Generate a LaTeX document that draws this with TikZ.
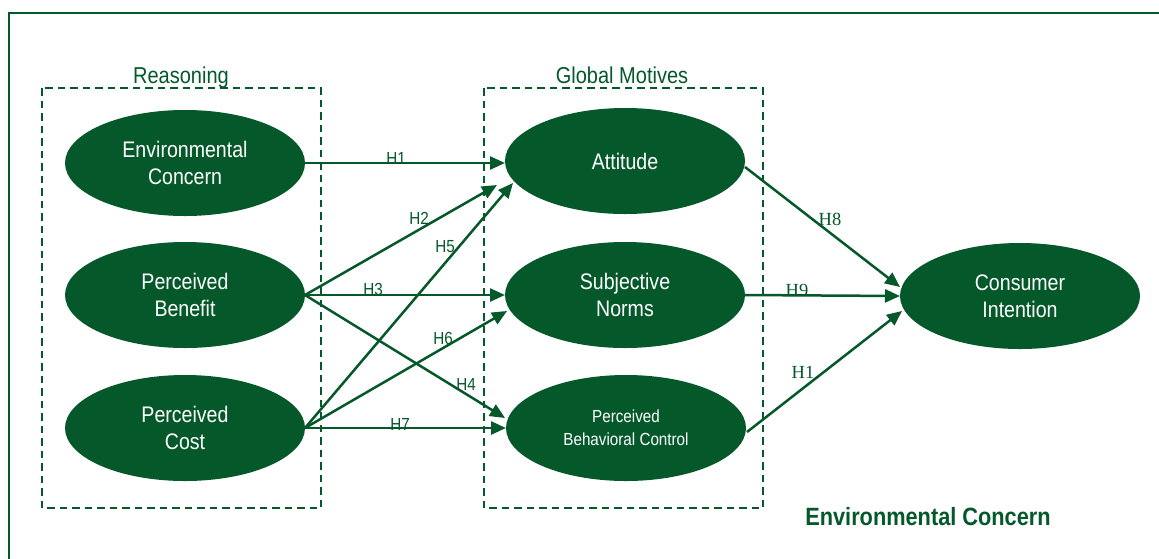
\documentclass[tikz,border=0pt]{standalone}
\usepackage{fontspec}
\setmainfont{Liberation Sans}[FakeStretch=0.87]
\newfontfamily\hserif{Liberation Serif}
\usetikzlibrary{shapes.geometric,arrows.meta,calc}
\definecolor{forest}{RGB}{4,88,42}
\begin{document}
\begin{tikzpicture}[x=1pt,y=-1pt,
  latent/.style={ellipse, fill=forest, draw=none, minimum width=240pt,
    minimum height=106pt, inner sep=0pt, outer sep=0pt, text=white,
    align=center, font=\fontsize{22.5}{27}\selectfont},
  grp/.style={draw=forest, line width=2pt, dash pattern=on 7.5pt off 5pt},
  grptitle/.style={text=forest, font=\fontsize{23}{27}\selectfont, anchor=base},
  hpath/.style={draw=forest, line width=2.5pt, -{Triangle[length=15pt,width=13pt]}},
  hyp/.style={text=forest, font=\fontsize{17.5}{17.5}\selectfont, anchor=base, inner sep=0pt},
  hyps/.style={text=forest, font=\hserif\fontsize{18.5}{18.5}\selectfont, anchor=base, inner sep=0pt}]

\clip (0,0) rectangle (1159,558);

% outer frame
\draw[forest, line width=2pt] (9,13) rectangle (1185,585);

% construct groups
\draw[grp] (42,88) rectangle (321,508);
\draw[grp] (484,88) rectangle (763,508);
\node[grptitle] (reasoningT) at (181,83) {Reasoning};
\node[grptitle] (motivesT) at (622,83) {Global Motives};

% latent constructs
\node[latent] (ec)  at (185,163) {Environmental\\Concern};
\node[latent] (pb)  at (185,295) {Perceived\\Benefit};
\node[latent] (pc)  at (185,428) {Perceived\\Cost};
\node[latent] (att) at (625,161) {Attitude};
\node[latent] (sn)  at (625,295) {Subjective\\Norms};
\node[latent, font=\fontsize{17.5}{23}\selectfont] (pbc) at (626,428) {Perceived\\Behavioral Control};
\node[latent] (ci)  at (1020,296) {Consumer\\Intention};

% hypothesised paths
\draw[hpath] (ec.east) -- (ec.east -| att.west);
\draw[hpath] (pb.east) -- ($(att.center)+(-128,24)$);
\draw[hpath] (pb.east) -- (sn.west);
\draw[hpath] (pb.east) -- ($(pbc.center)+(-121,-10)$);
\draw[hpath] (pc.east) -- ($(att.center)+(-112,22)$);
\draw[hpath] (pc.east) -- ($(sn.center)+(-118,16)$);
\draw[hpath] (pc.east) -- (pbc.west);
\draw[hpath] ($(att.center)+(120,6)$) -- ($(ci.center)+(-120,-9)$);
\draw[hpath] (sn.east) -- (ci.west);
\draw[hpath] ($(pbc.center)+(121,4)$) -- ($(ci.center)+(-118,15)$);

% path labels
\node[hyp] (h1) at (396,164) {H1};
\node[hyp] (h2) at (419,224) {H2};
\node[hyp] (h5) at (445,252) {H5};
\node[hyp] (h3) at (373,295) {H3};
\node[hyp] (h6) at (443,344) {H6};
\node[hyp] (h4) at (466,390) {H4};
\node[hyp] (h7) at (400,430) {H7};
\node[hyps] (h8) at (830,225) {H8};
\node[hyps] (h9) at (797,296) {H9};
\node[hyps] (h10) at (803,378) {H1};

% caption
\node[text=forest, font=\bfseries\fontsize{25}{25}\selectfont, anchor=base] (caption) at (928,525) {Environmental Concern};
\end{tikzpicture}
\end{document}
